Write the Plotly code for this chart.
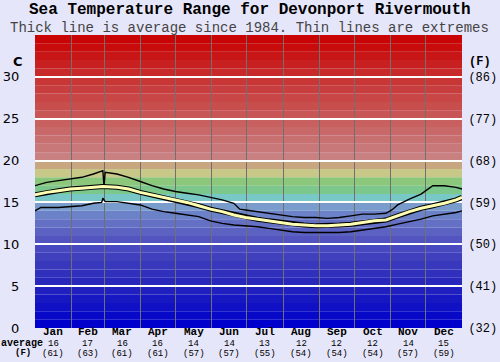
import plotly.graph_objects as go

# ---- data ----
months = ["Jan", "Feb", "Mar", "Apr", "May", "Jun", "Jul", "Aug", "Sep", "Oct", "Nov", "Dec"]
month_avg_c = [16, 17, 16, 16, 14, 14, 13, 12, 12, 12, 14, 15]
month_avg_f = [61, 63, 61, 61, 57, 57, 55, 54, 54, 54, 57, 59]
month_start_day = [0, 31, 59, 90, 120, 151, 181, 212, 243, 273, 304, 334, 365]

max_day = [0, 10, 20, 30, 40, 50, 57, 58, 59, 60, 70, 80, 90, 100, 110, 120, 130, 140, 150, 160,
           170, 175, 180, 190, 200, 210, 220, 230, 240, 250, 260, 270, 280, 290, 300, 305, 310,
           320, 330, 335, 340, 350, 360, 365]
max_temp = [17.0, 17.4, 17.6, 17.8, 18.0, 18.4, 18.7, 18.8, 16.9, 18.6, 18.4, 18.0, 17.5, 17.0,
            16.6, 16.3, 16.1, 15.9, 15.6, 15.3, 14.9, 14.2, 14.1, 13.9, 13.7, 13.5, 13.3, 13.2,
            13.2, 13.1, 13.2, 13.4, 13.6, 13.6, 13.7, 14.1, 14.7, 15.4, 16.0, 16.5, 17.0, 17.0,
            16.8, 16.6]

avg_day = [0, 10, 20, 30, 40, 50, 58, 70, 80, 90, 100, 110, 120, 130, 140, 150, 160, 170, 180,
           190, 200, 210, 220, 230, 240, 250, 260, 270, 280, 290, 300, 310, 320, 330, 340, 350,
           360, 365]
avg_temp = [15.9, 16.2, 16.4, 16.6, 16.7, 16.8, 16.9, 16.8, 16.6, 16.2, 15.9, 15.6, 15.3, 15.0,
            14.6, 14.2, 13.9, 13.5, 13.2, 13.0, 12.8, 12.6, 12.4, 12.3, 12.2, 12.2, 12.3, 12.4,
            12.6, 12.8, 12.9, 13.4, 13.9, 14.3, 14.6, 14.9, 15.3, 15.6]

min_day = [0, 5, 20, 30, 40, 50, 57, 58, 60, 70, 80, 90, 100, 110, 120, 130, 140, 150, 160, 170,
           180, 190, 200, 210, 220, 230, 240, 250, 260, 270, 280, 290, 300, 310, 320, 330, 340,
           350, 360, 365]
min_temp = [14.0, 14.4, 14.4, 14.5, 14.6, 14.9, 15.0, 15.5, 15.1, 15.1, 14.9, 14.7, 14.2, 13.9,
            13.7, 13.5, 13.3, 12.8, 12.5, 12.3, 12.2, 12.1, 11.9, 11.7, 11.5, 11.4, 11.4, 11.4,
            11.4, 11.5, 11.7, 11.9, 12.1, 12.4, 12.7, 13.0, 13.4, 13.6, 13.8, 14.0]

c_ticks = [0, 5, 10, 15, 20, 25, 30]
f_ticks = ["(32)", "(41)", "(50)", "(59)", "(68)", "(77)", "(86)"]

band_colors = [
    "#0000cc", "#0808c8", "#1010c4", "#1818c2", "#2020c0", "#2828bc", "#3030bc", "#3838bc",
    "#4040bc", "#4848c0", "#5454c0", "#5c62c2", "#6470c4", "#6c82c8", "#7a9ccc", "#78c8c8",
    "#7cc88c", "#8cc87c", "#c8c888", "#c8a680", "#c88080", "#c87878", "#c87070", "#c86868",
    "#c86060", "#c85656", "#c84e4e", "#c84646", "#c83e3e", "#c83636", "#c82a2a", "#c82020",
    "#c81616", "#c80c0c", "#c80404",
]

MONO = "'Courier New', 'Liberation Mono', Courier, monospace"

fig = go.Figure()

fig.add_trace(go.Scatter(x=max_day, y=max_temp, mode="lines",
                         line=dict(color="black", width=1.4), hoverinfo="skip"))
fig.add_trace(go.Scatter(x=avg_day, y=avg_temp, mode="lines",
                         line=dict(color="black", width=5), hoverinfo="skip"))
fig.add_trace(go.Scatter(x=avg_day, y=avg_temp, mode="lines",
                         line=dict(color="#ffffb4", width=3), hoverinfo="skip"))
fig.add_trace(go.Scatter(x=min_day, y=min_temp, mode="lines", yaxis="y2",
                         line=dict(color="black", width=1.4), hoverinfo="skip"))

shapes = []
for i, col in enumerate(band_colors):
    shapes.append(dict(type="rect", xref="paper", yref="y", x0=0, x1=1, y0=i, y1=i + 1,
                       fillcolor=col, line=dict(width=0), layer="below"))

L, R, T, B, W, H = 35, 38, 35, 34, 500, 362
pw, ph = W - L - R, H - T - B


def px(xp):
    return (xp - L) / pw


def py(yp):
    return (H - B - yp) / ph


ann = []
ann.append(dict(text="<b>Sea Temperature Range for Devonport Rivermouth</b>", x=px(250), y=py(10.5),
                xref="paper", yref="paper", showarrow=False, xanchor="center", yanchor="middle",
                font=dict(family=MONO, size=16, color="black")))
ann.append(dict(text="Thick line is average since 1984. Thin lines are extremes", x=px(249), y=py(28),
                xref="paper", yref="paper", showarrow=False, xanchor="center", yanchor="middle",
                font=dict(family=MONO, size=14, color="#444444")))
ann.append(dict(text="<b>C</b>", x=px(18), y=py(61), xref="paper", yref="paper", showarrow=False,
                xanchor="center", yanchor="middle", font=dict(family="DejaVu Sans", size=13, color="black")))
ann.append(dict(text="<b>(F)</b>", x=px(480), y=py(62), xref="paper", yref="paper", showarrow=False,
                xanchor="center", yanchor="middle", font=dict(family=MONO, size=12, color="black")))
ann.append(dict(text="<b>average</b>", x=px(22), y=py(343), xref="paper", yref="paper", showarrow=False,
                xanchor="center", yanchor="middle", font=dict(family=MONO, size=10, color="black")))
ann.append(dict(text="<b>(F)</b>", x=px(23), y=py(353), xref="paper", yref="paper", showarrow=False,
                xanchor="center", yanchor="middle", font=dict(family=MONO, size=9, color="black")))
for i, m in enumerate(months):
    mid = (month_start_day[i] + month_start_day[i + 1]) / 2
    ann.append(dict(text=f"<b>{m}</b>", x=mid, y=py(332.5), xref="x", yref="paper", showarrow=False,
                    xanchor="center", yanchor="middle", font=dict(family=MONO, size=11, color="black")))
    ann.append(dict(text=f"{month_avg_c[i]}", x=mid, y=py(343.5), xref="x", yref="paper", showarrow=False,
                    xanchor="center", yanchor="middle", font=dict(family=MONO, size=9, color="black")))
    ann.append(dict(text=f"({month_avg_f[i]})", x=mid, y=py(353.5), xref="x", yref="paper", showarrow=False,
                    xanchor="center", yanchor="middle", font=dict(family=MONO, size=9, color="black")))

fig.update_layout(
    width=W, height=H,
    margin=dict(l=L, r=R, t=T, b=B, pad=0, autoexpand=False),
    paper_bgcolor="#e6e6fa", plot_bgcolor="#e6e6fa",
    showlegend=False,
    shapes=shapes,
    annotations=ann,
    xaxis=dict(range=[0, 365], tickvals=month_start_day[1:-1], showticklabels=False,
               showgrid=True, gridcolor="#707070", gridwidth=1, zeroline=False, showline=False,
               ticks="", fixedrange=True, automargin=False),
    yaxis=dict(range=[0, 35], tickvals=c_ticks, showgrid=True, gridcolor="white", gridwidth=2,
               zeroline=False, showline=False, ticks="outside", ticklen=12, tickcolor="rgba(0,0,0,0)",
               tickfont=dict(family="DejaVu Sans", size=13, color="black"), fixedrange=True,
               automargin=False),
    yaxis2=dict(range=[0, 35], overlaying="y", side="right", tickvals=c_ticks, ticktext=f_ticks,
                showgrid=False, zeroline=False, showline=False, ticks="outside", ticklen=3,
                tickcolor="rgba(0,0,0,0)",
                tickfont=dict(family=MONO, size=12, color="black"), fixedrange=True,
                automargin=False),
)

fig.write_html("out.html", config={"displayModeBar": False},
               post_script="document.body.style.margin='0';")
